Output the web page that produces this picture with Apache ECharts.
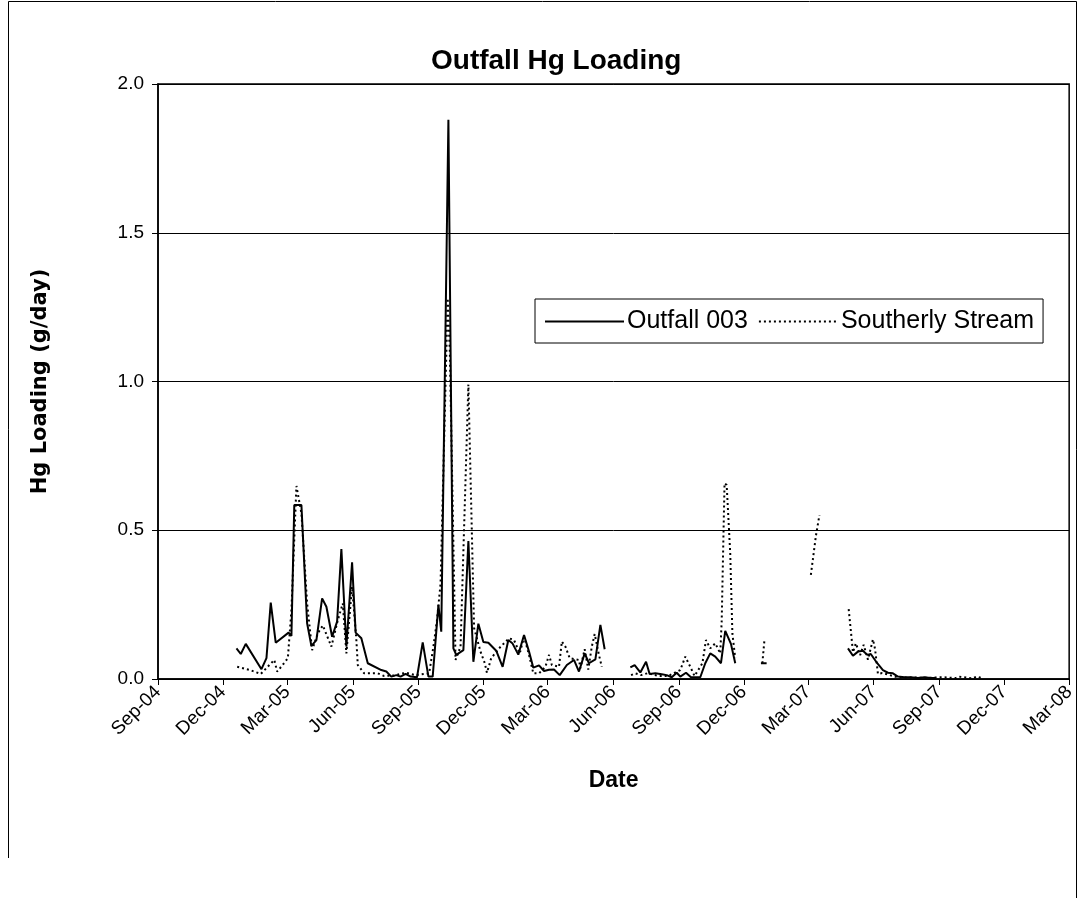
<!DOCTYPE html>
<html>
<head>
<meta charset="utf-8">
<title>Outfall Hg Loading</title>
<script src="https://cdn.jsdelivr.net/npm/echarts@6/dist/echarts.min.js"></script>
<style>
  html, body { margin: 0; padding: 0; background: #fff; }
  #chart { width: 1078px; height: 898px; }
</style>
</head>
<body>
<div id="chart"></div>
<script>
// Sampling dates and loadings (g/day); null marks a break in the record.
const outfallDates = [
  '2004-12-20','2004-12-26','2005-01-02','2005-01-24','2005-01-31','2005-02-06','2005-02-13',
  '2005-03-03','2005-03-07','2005-03-11','2005-03-21','2005-03-29','2005-04-04','2005-04-11',
  '2005-04-19','2005-04-25','2005-05-03','2005-05-10','2005-05-16','2005-05-23','2005-05-31',
  '2005-06-05','2005-06-13','2005-06-22','2005-07-11','2005-07-18','2005-07-25','2005-08-01',
  '2005-08-07','2005-08-14','2005-08-21','2005-08-30','2005-09-07','2005-09-15','2005-09-21',
  '2005-09-29','2005-10-03','2005-10-13','2005-10-20','2005-10-24','2005-11-03','2005-11-10',
  '2005-11-17','2005-11-24','2005-12-01','2005-12-08','2005-12-19','2005-12-28','2006-01-05',
  '2006-01-11','2006-01-19','2006-01-27','2006-02-03','2006-02-09','2006-02-17','2006-02-24',
  '2006-03-03','2006-03-10','2006-03-18','2006-03-28','2006-04-07','2006-04-14','2006-04-22',
  '2006-04-28','2006-05-07','2006-05-14','2006-05-20','2006-06-05',
  '2006-06-25','2006-07-01','2006-07-09','2006-07-17','2006-07-22','2006-07-30','2006-08-08',
  '2006-08-15','2006-08-22','2006-08-29','2006-09-03','2006-09-11','2006-09-18','2006-10-01',
  '2006-10-08','2006-10-15','2006-10-22','2006-10-30','2006-11-05','2006-11-13','2006-11-19',
  '2006-12-05',
  '2006-12-25','2007-01-02','2007-02-15',
  '2007-04-26','2007-05-03','2007-05-10','2007-05-17','2007-05-23','2007-05-28','2007-06-06',
  '2007-06-14','2007-06-21','2007-06-28','2007-07-05','2007-07-14','2007-07-23','2007-08-02',
  '2007-08-11','2007-08-20','2007-08-27'
];
const outfallValues = [
  0.103,0.084,0.118,0.033,0.070,0.257,0.122,
  0.156,0.145,0.585,0.585,0.187,0.111,0.131,
  0.271,0.243,0.142,0.193,0.437,0.109,0.392,
  0.156,0.137,0.053,0.030,0.025,0.008,0.013,
  0.008,0.017,0.008,0.006,0.123,0.008,0.008,
  0.249,0.159,1.880,0.103,0.081,0.097,0.464,
  0.058,0.186,0.124,0.122,0.095,0.041,0.131,
  0.119,0.082,0.148,0.092,0.038,0.046,0.027,
  0.031,0.032,0.013,0.047,0.064,0.025,0.086,
  0.053,0.066,0.182,0.100,null,
  0.039,0.047,0.022,0.058,0.017,0.019,0.016,
  0.013,0.006,0.021,0.008,0.021,0.006,0.006,
  0.053,0.086,0.075,0.053,0.162,0.118,0.053,
  null,
  0.053,0.053,null,
  0.103,0.078,0.092,0.095,0.081,0.084,0.053,
  0.030,0.021,0.019,0.008,0.006,0.006,0.003,
  0.006,0.003,0.003
];

const streamDates = [
  '2004-12-21','2005-01-08','2005-01-23','2005-02-11','2005-02-15','2005-02-23','2005-03-02',
  '2005-03-07','2005-03-14','2005-03-21','2005-03-29','2005-04-05','2005-04-13','2005-04-20',
  '2005-05-02','2005-05-11','2005-05-18','2005-05-23','2005-05-31','2005-06-06','2005-06-08',
  '2005-06-17','2005-07-06','2005-07-15','2005-07-29','2005-08-14','2005-08-28','2005-09-16',
  '2005-09-22','2005-09-27','2005-10-02','2005-10-12','2005-10-15','2005-10-23','2005-10-30',
  '2005-11-10','2005-11-18','2005-11-27','2005-12-03','2005-12-06','2005-12-12','2005-12-23',
  '2006-01-06','2006-01-13','2006-01-21','2006-01-27','2006-02-03','2006-02-09','2006-02-17',
  '2006-02-26','2006-03-03','2006-03-07','2006-03-17','2006-03-21','2006-03-26','2006-04-01',
  '2006-04-14','2006-04-16','2006-04-22','2006-04-27','2006-05-02','2006-05-06','2006-05-12',
  '2006-05-16','2006-06-05',
  '2006-06-26','2006-07-02','2006-07-10','2006-07-20','2006-08-03','2006-08-17','2006-09-03',
  '2006-09-10','2006-09-17','2006-09-23','2006-10-04','2006-10-09','2006-10-15','2006-10-22',
  '2006-10-29','2006-10-31','2006-11-04','2006-11-07','2006-11-12','2006-11-15','2006-11-19',
  '2006-12-05',
  '2006-12-27','2006-12-30','2007-02-10',
  '2007-03-05','2007-03-12','2007-03-17','2007-04-05',
  '2007-04-27','2007-05-03','2007-05-07','2007-05-13','2007-05-18','2007-05-24','2007-05-31',
  '2007-06-03','2007-06-07','2007-06-13','2007-06-21','2007-07-05','2007-07-26','2007-08-16',
  '2007-09-06','2007-09-24','2007-09-29','2007-10-17','2007-10-24','2007-10-31'
];
const streamValues = [
  0.041,0.030,0.017,0.064,0.025,0.048,0.070,
  0.232,0.649,0.557,0.254,0.097,0.154,0.180,
  0.109,0.198,0.254,0.086,0.310,0.131,0.047,
  0.019,0.019,0.010,0.012,0.021,0.013,0.019,
  0.109,0.198,0.320,1.280,1.100,0.064,0.109,
  0.990,0.171,0.092,0.053,0.021,0.070,0.103,
  0.137,0.131,0.086,0.142,0.081,0.019,0.019,
  0.041,0.081,0.047,0.041,0.126,0.109,0.070,
  0.064,0.036,0.100,0.032,0.109,0.151,0.081,
  0.041,null,
  0.013,0.019,0.013,0.020,0.010,0.010,0.030,
  0.075,0.041,0.010,0.053,0.131,0.103,0.120,
  0.086,0.193,0.658,0.652,0.422,0.153,0.070,
  null,
  0.053,0.133,null,
  0.350,0.480,0.551,null,
  0.235,0.090,0.120,0.080,0.115,0.065,0.133,
  0.100,0.017,0.020,0.015,0.005,0.005,0.004,
  0.006,0.003,0.008,0.002,0.008,0.003
];

// Quarterly date ticks along the x axis
const tickDates = [
  '2004-09-01','2004-12-01','2005-03-01','2005-06-01','2005-09-01','2005-12-01',
  '2006-03-01','2006-06-01','2006-09-01','2006-12-01','2007-03-01','2007-06-01',
  '2007-09-01','2007-12-01','2008-03-01'
];
const monthNames = ['Jan','Feb','Mar','Apr','May','Jun','Jul','Aug','Sep','Oct','Nov','Dec'];

const toTime = s => Date.parse(s + 'T00:00:00Z');
const pairUp = (dates, values) => dates.map((d, i) => [toTime(d), values[i] === null ? '-' : values[i]]);
const tickTimes = tickDates.map(toTime);

const FONT = '"Liberation Sans", Arial, sans-serif';

const chart = echarts.init(document.getElementById('chart'), null, { renderer: 'canvas' });
chart.setOption({
  animation: false,
  backgroundColor: '#fff',
  title: {
    text: 'Outfall Hg Loading',
    left: 426,
    top: 42,
    textStyle: { fontFamily: FONT, fontSize: 28, fontWeight: 'bold', color: '#000' }
  },
  legend: {
    left: 535,
    top: 299,
    orient: 'horizontal',
    backgroundColor: '#fff',
    borderColor: '#000',
    borderWidth: 1,
    borderRadius: 0,
    padding: [10, 9, 9, 9],
    itemWidth: 79,
    itemHeight: 25,
    itemGap: 10,
    itemStyle: { opacity: 0 },
    textStyle: { fontFamily: FONT, fontSize: 25, color: '#000', padding: [0, 0, 0, -2] },
    data: ['Outfall 003', 'Southerly Stream']
  },
  grid: {
    left: 158, top: 84, right: 6, bottom: 219,
    show: true, borderColor: '#000', borderWidth: 1.5, containLabel: false
  },
  xAxis: {
    type: 'value',
    min: tickTimes[0],
    max: tickTimes[tickTimes.length - 1],
    name: 'Date',
    nameLocation: 'middle',
    nameGap: 90,
    nameTextStyle: { fontFamily: FONT, fontSize: 23, fontWeight: 'bold', color: '#000' },
    axisLine: { show: true, onZero: false, lineStyle: { color: '#000', width: 1.5 } },
    axisTick: { show: true, length: 6, lineStyle: { color: '#000', width: 1 }, customValues: tickTimes },
    splitLine: { show: false },
    axisLabel: {
      customValues: tickTimes,
      rotate: 45,
      margin: 10,
      fontFamily: FONT,
      fontSize: 19,
      color: '#000',
      formatter: v => {
        const d = new Date(v);
        return monthNames[d.getUTCMonth()] + '-' + String(d.getUTCFullYear() % 100).padStart(2, '0');
      }
    }
  },
  yAxis: {
    type: 'value',
    min: 0,
    max: 2,
    interval: 0.5,
    name: 'Hg Loading (g/day)',
    nameLocation: 'middle',
    nameGap: 107,
    nameRotate: 90,
    nameTextStyle: { fontFamily: '"DejaVu Sans", Verdana, sans-serif', fontSize: 21, fontWeight: 'bold', color: '#000' },
    axisLine: { show: true, lineStyle: { color: '#000', width: 1.5 } },
    axisTick: { show: true, length: 6, lineStyle: { color: '#000', width: 1 } },
    splitLine: { show: true, lineStyle: { color: '#000', width: 1 } },
    axisLabel: {
      margin: 14,
      fontFamily: FONT,
      fontSize: 19,
      color: '#000',
      formatter: v => v.toFixed(1)
    }
  },
  series: [
    {
      name: 'Outfall 003',
      type: 'line',
      data: pairUp(outfallDates, outfallValues),
      symbol: 'none',
      connectNulls: false,
      lineStyle: { color: '#000', width: 2 },
      itemStyle: { color: '#000' },
      z: 3
    },
    {
      name: 'Southerly Stream',
      type: 'line',
      data: pairUp(streamDates, streamValues),
      symbol: 'none',
      connectNulls: false,
      lineStyle: { color: '#000', width: 2, type: [2, 3] },
      itemStyle: { color: '#000' },
      z: 2
    }
  ],
  graphic: [
    {
      type: 'polyline',
      shape: { points: [[8.5, 858], [8.5, 1.5], [1076.5, 1.5], [1076.5, 898]] },
      style: { stroke: '#000', lineWidth: 1, fill: null },
      silent: true
    }
  ]
});
</script>
</body>
</html>
